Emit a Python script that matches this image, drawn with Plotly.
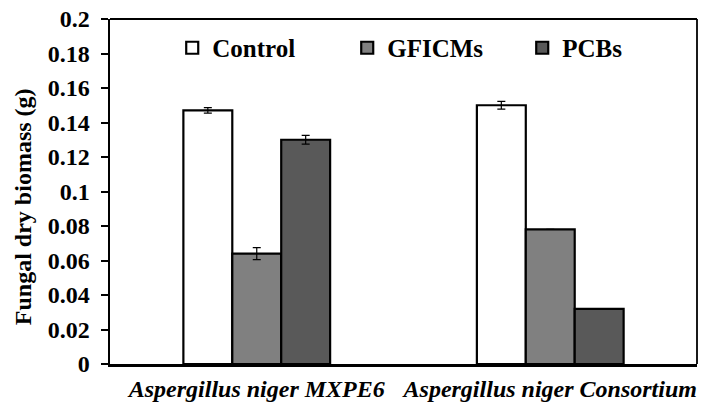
import plotly.graph_objects as go

categories = ["Aspergillus niger MXPE6", "Aspergillus niger Consortium"]
series_names = ["Control", "GFICMs", "PCBs"]
control = [0.147, 0.150]
gficms = [0.064, 0.078]
pcbs = [0.130, 0.032]
control_err = [0.0016, 0.0023]
gficms_err = [0.0035, None]
pcbs_err = [0.0025, None]
y_ticks = [0, 0.02, 0.04, 0.06, 0.08, 0.1, 0.12, 0.14, 0.16, 0.18, 0.2]
y_ticklabels = ["0", "0.02", "0.04", "0.06", "0.08", "0.1", "0.12", "0.14", "0.16", "0.18", "0.2"]
y_title = "Fungal dry biomass (g)"

colors = ["#ffffff", "#808080", "#595959"]
values = [control, gficms, pcbs]
errors = [control_err, gficms_err, pcbs_err]

FONT = "Liberation Serif"

fig = go.Figure()
for name, vals, errs, col in zip(series_names, values, errors, colors):
    fig.add_trace(go.Bar(
        name=name, x=categories, y=vals,
        marker=dict(color=col, line=dict(color="black", width=2.2)),
        error_y=dict(type="data", array=errs, visible=True, color="black",
                     thickness=1.2, width=4),
    ))

fig.update_layout(
    width=703, height=404,
    margin=dict(l=110, r=6, t=19, b=40, autoexpand=False),
    paper_bgcolor="white", plot_bgcolor="white",
    barmode="group", bargap=0.5, bargroupgap=0,
    font=dict(family=FONT, color="black"),
    showlegend=True,
    hovermode=False,
    legend=dict(orientation="h", x=0.106, y=0.916, xanchor="left", yanchor="middle",
                entrywidth=130, entrywidthmode="pixels",
                font=dict(family=FONT, size=25, weight="bold", color="black"),
                bgcolor="rgba(0,0,0,0)", itemclick=False),
    xaxis=dict(showline=True, linecolor="black", linewidth=2.5, ticks="",
               tickfont=dict(family=FONT, size=24, weight="bold", style="italic", color="black"),
               ticklabelstandoff=2,
               showgrid=False, zeroline=False, automargin=False),
    yaxis=dict(range=[0, 0.2], tickvals=y_ticks, ticktext=y_ticklabels,
               showline=True, linecolor="black", linewidth=2.5,
               ticks="outside", ticklen=7, tickwidth=2, tickcolor="black",
               ticklabelstandoff=6, automargin=False, ticklabeloverflow="allow",
               tickfont=dict(family=FONT, size=24, weight="bold", color="black"),
               showgrid=False, zeroline=False),
    annotations=[
        dict(text=y_title, xref="paper", yref="paper", x=-0.148, y=0.455,
             xanchor="center", yanchor="middle", textangle=-90, showarrow=False,
             font=dict(family=FONT, size=24, weight="bold", color="black")),
    ],
    shapes=[
        dict(type="line", xref="paper", yref="paper", x0=0, x1=1, y0=1, y1=1,
             line=dict(color="black", width=1.8)),
        dict(type="line", xref="paper", yref="paper", x0=1, x1=1, y0=0, y1=1,
             line=dict(color="black", width=1.8)),
    ],
)

fig.write_html("out.html",
               config={"displayModeBar": False, "staticPlot": True},
               post_script="document.body.style.margin='0';document.body.style.overflow='hidden';")
